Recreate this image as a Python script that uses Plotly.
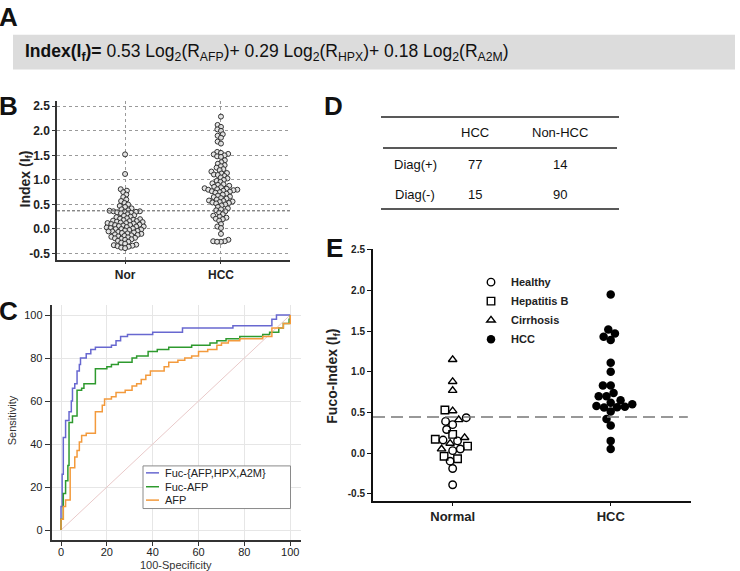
import math
import plotly.graph_objects as go

# ---------------- data ----------------
# Panel B: index values
B_cats = ["Nor", "HCC"]
B_nor = [1.52, 1.12, 0.81, 0.78, 0.75, 0.70, 0.65, 0.60, 0.57, 0.53, 0.50, 0.47, 0.45, 0.42,
         0.40, 0.38, 0.37, 0.36, 0.36, 0.35, 0.35, 0.34, 0.33, 0.32, 0.30, 0.28, 0.27, 0.25,
         0.24, 0.22, 0.21, 0.20, 0.19, 0.18, 0.17, 0.16, 0.16, 0.15, 0.14, 0.13, 0.12, 0.12,
         0.11, 0.10, 0.09, 0.08, 0.08, 0.07, 0.06, 0.05, 0.05, 0.04, 0.03, 0.02, 0.01, 0.00,
         0.00, -0.01, -0.02, -0.03, -0.04, -0.05, -0.05, -0.06, -0.07, -0.08, -0.09, -0.10,
         -0.11, -0.12, -0.13, -0.14, -0.15, -0.16, -0.17, -0.18, -0.19, -0.20, -0.21, -0.22,
         -0.24, -0.26, -0.28, -0.30, -0.32, -0.33, -0.34, -0.35, -0.36, -0.38, -0.39]
B_hcc = [2.29, 2.12, 2.08, 2.03, 2.00, 1.93, 1.90, 1.86, 1.78, 1.74, 1.57, 1.55, 1.53, 1.52,
         1.50, 1.48, 1.47, 1.40, 1.36, 1.33, 1.30, 1.28, 1.25, 1.22, 1.20, 1.17, 1.14, 1.13,
         1.11, 1.10, 1.08, 1.05, 1.03, 1.00, 0.98, 0.96, 0.93, 0.91, 0.90, 0.88, 0.86, 0.85,
         0.83, 0.82, 0.81, 0.80, 0.80, 0.79, 0.78, 0.77, 0.76, 0.75, 0.74, 0.72, 0.70, 0.68,
         0.66, 0.65, 0.63, 0.62, 0.60, 0.58, 0.57, 0.56, 0.55, 0.54, 0.53, 0.52, 0.50, 0.48,
         0.45, 0.42, 0.40, 0.38, 0.36, 0.33, 0.30, 0.27, 0.25, 0.23, 0.21, 0.20, 0.17, 0.10,
         0.05, 0.02, -0.10, -0.22, -0.25, -0.25, -0.26, -0.26]
B_cutoff = 0.37
B_yticks = [-0.5, 0.0, 0.5, 1.0, 1.5, 2.0, 2.5]

# Panel C: ROC curves (100-Specificity, Sensitivity)
roc_names = ["Fuc-{AFP,HPX,A2M}", "Fuc-AFP", "AFP"]
fpr_b = [0, 0, 0.5, 1, 2, 3.5, 4.5, 5, 6, 7, 8, 8.5, 11, 13, 15, 22, 24, 26, 29, 40, 53, 75, 92, 94, 100]
tpr_b = [0, 11, 26, 43, 51, 55, 60, 66, 68, 74, 77, 80, 82, 84, 85, 86, 88, 90, 91, 92, 94, 95, 98, 100, 100]
fpr_g = [0, 0, 1, 2, 3, 3.5, 5, 7, 9, 10, 15, 20, 22, 25, 31, 33, 38, 42, 47, 57, 65, 68, 72, 78, 88, 91, 95, 97, 99.5, 100]
tpr_g = [0, 5, 17, 23, 30, 50, 53, 65, 66, 68, 75, 76, 77, 78, 80, 81, 83, 84, 85, 86, 87, 88, 89, 90, 91, 92, 94, 96, 98, 100]
fpr_o = [0, 0, 1, 2, 4, 6, 7, 8, 9, 11, 15, 18, 19, 22, 24, 28, 31, 33, 35, 37, 39, 45, 47, 51, 54, 57, 60, 64, 68, 70, 73, 78, 88, 92, 97, 100]
tpr_o = [0, 5, 11, 14, 29, 34, 37, 41, 44, 45, 55, 58, 61, 62, 64, 65, 67, 68, 70, 72, 74, 76, 78, 79, 80, 81, 83, 84, 86, 87, 88, 89, 90, 94, 96, 100]
C_ticks = [0, 20, 40, 60, 80, 100]

# Panel D: table
D_cols = ["HCC", "Non-HCC"]
D_rows = ["Diag(+)", "Diag(-)"]
D_vals = [[77, 14], [15, 90]]

# Panel E: Fuco-index
E_cats = ["Normal", "HCC"]
E_healthy = [-0.39, -0.19, -0.10, 0.03, 0.05, 0.15, 0.16, 0.29, 0.35, 0.39, 0.435]
E_hepb = [-0.07, -0.04, 0.085, 0.17, 0.23, 0.53]
E_cirr = [1.15, 0.88, 0.77, 0.52, 0.41, 0.19, 0.12, 0.05]
E_hcc = [1.95, 1.52, 1.47, 1.43, 1.39, 1.11, 1.00, 0.83, 0.83, 0.74, 0.70, 0.70, 0.65, 0.62,
         0.60, 0.58, 0.57, 0.565, 0.56, 0.51, 0.42, 0.34, 0.15, 0.05]
E_cutoff = 0.443
E_yticks = [-0.5, 0.0, 0.5, 1.0, 1.5, 2.0, 2.5]

# ---------------- helpers ----------------
W, H = 740, 571
FONT = "Arial, Liberation Sans, sans-serif"


def px(x):
    return x / W


def py(y):
    return 1 - y / H


def beeswarm(vals, ppu, d):
    """Greedy beeswarm offsets (pixels) for values, with pixel-per-unit ppu and marker spacing d."""
    order = sorted(range(len(vals)), key=lambda i: vals[i])
    placed = []
    offs = [0.0] * len(vals)
    for i in order:
        y = vals[i] * ppu
        cands = [0.0]
        for (cx, cy) in placed:
            dy = abs(cy - y)
            if dy < d:
                dx = math.sqrt(d * d - dy * dy)
                cands += [cx + dx, cx - dx]
        cands.sort(key=lambda c: (abs(c), c))
        chosen = 0.0
        for c in cands:
            if all((c - cx) ** 2 + (y - cy) ** 2 >= d * d - 1e-6 for cx, cy in placed):
                chosen = c
                break
        placed.append((chosen, y))
        offs[i] = chosen
    return offs


fig = go.Figure()

# ---------------- Panel B ----------------
B_ppu = 49.5      # px per index unit
B_cpx = 96.0      # px per category
for k, vals in enumerate([B_nor, B_hcc]):
    offs = beeswarm(vals, B_ppu, 3.9)
    fig.add_trace(go.Scatter(
        x=[k + o / B_cpx for o in offs], y=vals, mode="markers",
        marker=dict(size=5, color="rgba(225,225,225,0.85)", line=dict(color="#333", width=1)),
        xaxis="x", yaxis="y", showlegend=False, hoverinfo="y"))

# ---------------- Panel C ----------------
fig.add_trace(go.Scatter(x=[0, 100], y=[0, 100], mode="lines",
                         line=dict(color="#e9c9c9", width=1), xaxis="x2", yaxis="y2",
                         showlegend=False, hoverinfo="skip"))
roc_cols = ["#6868d0", "#2e9a2e", "#f39a3c"]
for name, fx, ty, col in [(roc_names[0], fpr_b, tpr_b, roc_cols[0]),
                          (roc_names[1], fpr_g, tpr_g, roc_cols[1]),
                          (roc_names[2], fpr_o, tpr_o, roc_cols[2])]:
    fig.add_trace(go.Scatter(x=fx, y=ty, mode="lines", name=name,
                             line=dict(color=col, width=1.5, shape="hv"),
                             xaxis="x2", yaxis="y2", showlegend=False))

# ---------------- Panel E ----------------
E_ppu = 82.0
E_cpx = 158.0
normal_vals = E_healthy + E_hepb + E_cirr
normal_offs = beeswarm(normal_vals, E_ppu, 7.8)
n1, n2 = len(E_healthy), len(E_healthy) + len(E_hepb)
groups = [("Healthy", E_healthy, normal_offs[:n1], "circle-open", 7.5),
          ("Hepatitis B", E_hepb, normal_offs[n1:n2], "square-open", 7.5),
          ("Cirrhosis", E_cirr, normal_offs[n2:], "triangle-up-open", 7.5)]
for name, vals, offs, sym, sz in groups:
    fig.add_trace(go.Scatter(x=[0 + o / E_cpx for o in offs], y=vals, mode="markers", name=name,
                             marker=dict(symbol=sym, size=sz, color="black", line=dict(width=1.4)),
                             xaxis="x3", yaxis="y3", legend="legend"))
hcc_offs = beeswarm(E_hcc, E_ppu, 7.8)
fig.add_trace(go.Scatter(x=[1 + o / E_cpx for o in hcc_offs], y=E_hcc, mode="markers", name="HCC",
                         marker=dict(symbol="circle", size=8.5, color="black"),
                         xaxis="x3", yaxis="y3", legend="legend"))

# ---------------- axes ----------------
tickfont_b = dict(family=FONT, size=12, color="#222", weight="bold")
fig.update_layout(
    width=W, height=H, margin=dict(l=0, r=0, t=0, b=0),
    paper_bgcolor="white", plot_bgcolor="rgba(0,0,0,0)",
    font=dict(family=FONT, color="#222"),
    xaxis=dict(domain=[px(57), px(290)], range=[-0.71, 1.72], anchor="y",
               tickvals=[0, 1], ticktext=B_cats, tickfont=dict(family=FONT, size=12, color="#222", weight="bold"),
               showgrid=True, gridcolor="#9a9a9a", griddash="dot", gridwidth=1, zeroline=False,
               showline=True, linecolor="#333", linewidth=1.5, ticks="outside", ticklen=3,
               tickcolor="#333"),
    yaxis=dict(domain=[py(258), py(98)], range=[-0.627, 2.605], anchor="x",
               tickvals=B_yticks, ticktext=[f"{v:.1f}" for v in B_yticks], tickfont=tickfont_b,
               showgrid=True, gridcolor="#9a9a9a", griddash="dot", gridwidth=1, zeroline=False,
               showline=True, linecolor="#333", linewidth=1.5, ticks="outside", ticklen=3,
               tickcolor="#333"),
    xaxis2=dict(domain=[px(51.7), px(301)], range=[-4.06, 104.7], anchor="y2",
                tickvals=C_ticks, tickfont=dict(family=FONT, size=11, color="#222"),
                showgrid=True, gridcolor="#e6e6e6", zeroline=False,
                showline=True, linecolor="#333", linewidth=2, ticks="outside", ticklen=4,
                tickcolor="#333", ticklabelstandoff=-3),
    yaxis2=dict(domain=[py(540.3), py(304)], range=[-4.4, 104.5], anchor="x2",
                tickvals=C_ticks, tickfont=dict(family=FONT, size=11, color="#222"),
                showgrid=True, gridcolor="#e6e6e6", zeroline=False,
                showline=True, linecolor="#333", linewidth=2, ticks="outside", ticklen=5,
                tickcolor="#333"),
    xaxis3=dict(domain=[px(373), px(691)], range=[-0.504, 1.508], anchor="y3",
                tickvals=[0, 1], ticktext=E_cats, tickfont=dict(family=FONT, size=13, color="#222", weight="bold"),
                showgrid=False, zeroline=False, showline=True, linecolor="#111", linewidth=2,
                ticks="outside", ticklen=3, tickcolor="#111"),
    yaxis3=dict(domain=[py(501), py(247)], range=[-0.585, 2.513], anchor="x3",
                tickvals=E_yticks, ticktext=[f"{v:.1f}" for v in E_yticks],
                tickfont=dict(family=FONT, size=10, color="#222", weight="bold"),
                showgrid=False, zeroline=False, showline=True, linecolor="#111", linewidth=2,
                ticks="outside", ticklen=4, tickcolor="#111"),
    legend=dict(x=px(471), y=py(266), xanchor="left", yanchor="top", bgcolor="rgba(0,0,0,0)",
                borderwidth=0, font=dict(family=FONT, size=11, color="#222", weight="bold"),
                itemwidth=30, tracegroupgap=0),
    showlegend=True,
)

shapes = []
annots = []
# Panel A box and equation
shapes.append(dict(type="rect", xref="paper", yref="paper", x0=px(13), x1=px(735), y0=py(66), y1=py(31),
                   fillcolor="#dcdcdc", line=dict(width=0), layer="below"))
annots.append(dict(xref="paper", yref="paper", x=px(23), y=py(49), xanchor="left", yanchor="middle",
                   showarrow=False, font=dict(family=FONT, size=17.5, color="#111"),
                   text="<b>Index(I<sub>f</sub>)=</b> 0.53 Log<sub>2</sub>(R<sub>AFP</sub>)+ 0.29 Log<sub>2</sub>(R<sub>HPX</sub>)+ 0.18 Log<sub>2</sub>(R<sub>A2M</sub>)"))

# Panel letters
for letter, lx, ly in [("A", 8, 13), ("B", 8, 103), ("C", 8, 310), ("D", 333, 103), ("E", 334, 246)]:
    annots.append(dict(xref="paper", yref="paper", x=px(lx), y=py(ly), xanchor="center", yanchor="middle",
                       showarrow=False, text=f"<b>{letter}</b>", font=dict(family=FONT, size=26, color="#111")))

# Panel B cutoff + title
shapes.append(dict(type="line", xref="x domain", yref="y", x0=0, x1=1, y0=B_cutoff, y1=B_cutoff,
                   line=dict(color="#555", width=1, dash="3px,2px")))
annots.append(dict(xref="paper", yref="paper", x=px(26), y=py(177), textangle=-90, showarrow=False,
                   xanchor="center", yanchor="middle", text="<b>Index (I<sub>f</sub>)</b>",
                   font=dict(family=FONT, size=14, color="#222")))

# Panel C titles
annots.append(dict(xref="paper", yref="paper", x=px(176), y=py(565.5), showarrow=False,
                   xanchor="center", yanchor="middle", text="100-Specificity",
                   font=dict(family=FONT, size=11, color="#333")))
annots.append(dict(xref="paper", yref="paper", x=px(12), y=py(420), textangle=-90, showarrow=False,
                   xanchor="center", yanchor="middle", text="Sensitivity",
                   font=dict(family=FONT, size=11, color="#333")))

# Panel C legend box (compact, like the reference)
shapes.append(dict(type="rect", xref="paper", yref="paper", x0=px(143), x1=px(290.5), y0=py(509), y1=py(466),
                   fillcolor="white", line=dict(color="#8a8a8a", width=1)))
leg_y = [473, 487, 500.5]
for i, name in enumerate(roc_names):
    shapes.append(dict(type="line", xref="paper", yref="paper", x0=px(146), x1=px(159), y0=py(leg_y[i]),
                       y1=py(leg_y[i]), line=dict(color=roc_cols[i], width=1.5)))
    annots.append(dict(xref="paper", yref="paper", x=px(163), y=py(leg_y[i]), xanchor="left", yanchor="middle",
                       showarrow=False, text=name, font=dict(family=FONT, size=11, color="#222")))

# Panel D table
for (x0, x1, yy) in [(381, 619, 114), (383, 617, 145.3), (381, 619, 206.7)]:
    shapes.append(dict(type="line", xref="paper", yref="paper", x0=px(x0), x1=px(x1), y0=py(yy), y1=py(yy),
                       line=dict(color="#222", width=1.5)))
col_x = [475, 560]
row_y = [161.7, 191.7]
for j, c in enumerate(D_cols):
    annots.append(dict(xref="paper", yref="paper", x=px(col_x[j]), y=py(130), showarrow=False,
                       xanchor="center", yanchor="middle", text=c, font=dict(family=FONT, size=13, color="#111")))
for i, r in enumerate(D_rows):
    annots.append(dict(xref="paper", yref="paper", x=px(415), y=py(row_y[i]), showarrow=False,
                       xanchor="center", yanchor="middle", text=r, font=dict(family=FONT, size=13, color="#111")))
    for j in range(2):
        annots.append(dict(xref="paper", yref="paper", x=px(col_x[j]), y=py(row_y[i]), showarrow=False,
                           xanchor="center", yanchor="middle", text=str(D_vals[i][j]),
                           font=dict(family=FONT, size=13, color="#111")))

# Panel E cutoff + title
shapes.append(dict(type="line", xref="x3 domain", yref="y3", x0=0, x1=0.99, y0=E_cutoff, y1=E_cutoff,
                   line=dict(color="#777", width=1.5, dash="12px,6px")))
annots.append(dict(xref="paper", yref="paper", x=px(333), y=py(376), textangle=-90, showarrow=False,
                   xanchor="center", yanchor="middle", text="<b>Fuco-Index (I<sub>f</sub>)</b>",
                   font=dict(family=FONT, size=14, color="#222")))

fig.update_layout(shapes=shapes, annotations=annots)
fig.write_html("out.html", config={"displayModeBar": False},
               post_script="document.body.style.margin='0';document.body.style.overflow='hidden';")
